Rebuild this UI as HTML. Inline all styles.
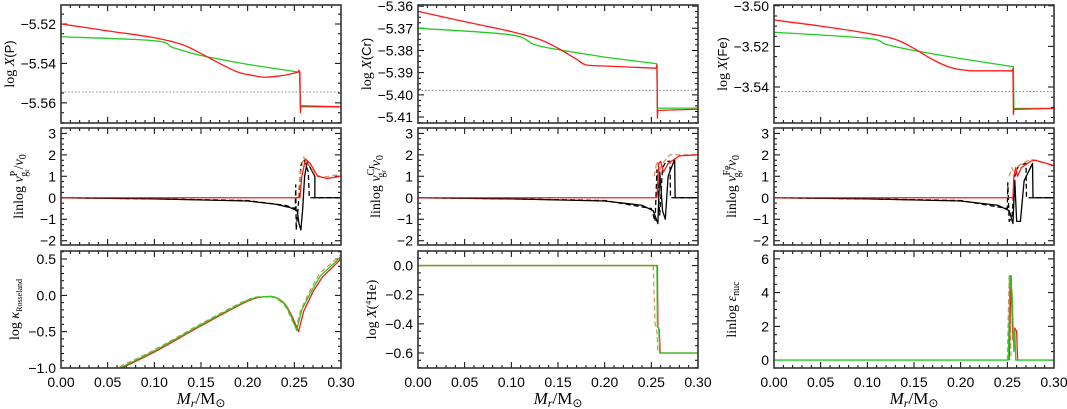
<!DOCTYPE html>
<html><head><meta charset="utf-8"><style>
html,body{margin:0;padding:0;background:#fff;}
svg{display:block;}
</style></head><body>
<svg id="fig" width="1067" height="409" xmlns="http://www.w3.org/2000/svg"></svg>
<script>
// ---- data arrays (x in M_r/M_sun, y in panel units) ----
const xTickLabels = ["0.00","0.05","0.10","0.15","0.20","0.25","0.30"];
const xTickValues = [0,0.05,0.10,0.15,0.20,0.25,0.30];
// Row 1: abundances
const pRed   = [[0,-5.520],[0.05,-5.5235],[0.10,-5.527],[0.13,-5.5305],[0.15,-5.535],[0.17,-5.540],[0.19,-5.5445],[0.21,-5.5465],[0.22,-5.547],[0.24,-5.546],[0.254,-5.5445],[0.255,-5.5435],[0.256,-5.5445],[0.2565,-5.565],[0.257,-5.5615],[0.30,-5.562]];
const pGreen = [[0,-5.5265],[0.10,-5.5285],[0.12,-5.532],[0.15,-5.536],[0.20,-5.5405],[0.2555,-5.5445],[0.2565,-5.562],[0.30,-5.562]];
const pRef   = -5.5545;
const crRed   = [[0,-5.3615],[0.002,-5.3625],[0.05,-5.367],[0.10,-5.3715],[0.13,-5.375],[0.15,-5.379],[0.17,-5.384],[0.18,-5.3865],[0.20,-5.387],[0.255,-5.388],[0.256,-5.3865],[0.2565,-5.4105],[0.257,-5.407],[0.30,-5.4065]];
const crGreen = [[0,-5.370],[0.10,-5.373],[0.13,-5.378],[0.20,-5.383],[0.256,-5.386],[0.2565,-5.406],[0.30,-5.406]];
const crRef   = -5.398;
const feRed   = [[0,-3.507],[0.05,-3.510],[0.10,-3.5135],[0.13,-3.5165],[0.15,-3.521],[0.17,-3.5265],[0.19,-3.5305],[0.21,-3.532],[0.255,-3.532],[0.256,-3.531],[0.2565,-3.5535],[0.257,-3.551],[0.30,-3.5505]];
const feGreen = [[0,-3.513],[0.10,-3.516],[0.12,-3.519],[0.15,-3.522],[0.20,-3.526],[0.2565,-3.530],[0.257,-3.5505],[0.30,-3.5505]];
const feRef   = -3.5422;
// Row 2: velocities
const vpBlack  = [[0,0],[0.10,-0.05],[0.20,-0.15],[0.23,-0.3],[0.245,-0.45],[0.253,-0.6],[0.255,-1.2],[0.257,-1.5],[0.259,-0.5],[0.261,1.0],[0.264,1.7],[0.267,1.4],[0.272,1.0],[0.272,0],[0.30,0]];
const vpDash   = [[0,0],[0.10,-0.05],[0.20,-0.13],[0.24,-0.35],[0.251,-0.5],[0.2515,0.6],[0.252,-1.5],[0.254,-0.5],[0.257,1.5],[0.260,1.8],[0.265,1.2],[0.266,0],[0.30,0]];
const vpRed    = [[0,0],[0.256,0],[0.258,1.0],[0.262,1.8],[0.267,1.6],[0.275,1.0],[0.285,0.9],[0.30,1.0]];
const vpOrange = [[0.254,0],[0.256,1.0],[0.260,1.9],[0.265,1.6],[0.272,1.1],[0.28,0.95],[0.30,1.1]];
const vcBlack  = [[0,0],[0.10,-0.05],[0.20,-0.15],[0.24,-0.35],[0.252,-0.6],[0.257,-1.2],[0.259,1.2],[0.262,-0.6],[0.265,-1.0],[0.268,1.0],[0.275,1.8],[0.2755,0],[0.30,0]];
const vcDash   = [[0,0],[0.10,-0.05],[0.20,-0.13],[0.25,-0.5],[0.254,-1.1],[0.256,1.3],[0.259,-0.8],[0.262,1.4],[0.266,1.7],[0.270,1.7],[0.2705,0],[0.30,0]];
const vcRed    = [[0,0],[0.256,0],[0.258,1.6],[0.260,1.7],[0.263,1.2],[0.268,1.6],[0.28,1.95],[0.30,2.0]];
const vcOrange = [[0.253,1.0],[0.256,1.7],[0.259,1.3],[0.262,1.6],[0.27,2.0],[0.30,2.0]];
const vfBlack  = [[0,0],[0.10,-0.05],[0.20,-0.15],[0.24,-0.35],[0.252,-0.6],[0.256,-1.2],[0.258,0.8],[0.260,-1.1],[0.264,-1.1],[0.268,0.8],[0.277,1.6],[0.2775,0],[0.30,0]];
const vfDash   = [[0,0],[0.10,-0.05],[0.20,-0.13],[0.25,-0.5],[0.2505,0.7],[0.252,-1.1],[0.255,-0.9],[0.258,1.0],[0.262,1.5],[0.270,1.6],[0.2705,0],[0.30,0]];
const vfRed    = [[0,0],[0.256,0],[0.257,1.0],[0.259,1.4],[0.261,1.0],[0.265,1.4],[0.275,1.7],[0.28,1.75],[0.30,1.5]];
const vfOrange = [[0.252,1.0],[0.255,1.4],[0.258,1.1],[0.262,1.5],[0.275,1.8],[0.30,1.5]];
// Row 3
const kRed    = [[0.06,-1.03],[0.10,-0.78],[0.15,-0.42],[0.20,-0.08],[0.22,-0.02],[0.23,-0.03],[0.24,-0.12],[0.248,-0.3],[0.2545,-0.5],[0.26,-0.22],[0.27,0.05],[0.28,0.25],[0.30,0.5]];
const kGreen  = [[0.058,-1.03],[0.10,-0.765],[0.15,-0.405],[0.20,-0.07],[0.22,-0.02],[0.23,-0.03],[0.24,-0.13],[0.247,-0.3],[0.2525,-0.48],[0.258,-0.2],[0.268,0.05],[0.278,0.27],[0.30,0.53]];
const kOrange = [[0.055,-1.03],[0.10,-0.75],[0.15,-0.39],[0.20,-0.06],[0.22,-0.02],[0.23,-0.04],[0.24,-0.15],[0.246,-0.3],[0.2515,-0.45],[0.257,-0.2],[0.267,0.07],[0.277,0.3],[0.30,0.56]];
const heGreen  = [[0,0],[0.256,0],[0.2565,-0.42],[0.258,-0.43],[0.259,-0.6],[0.30,-0.6]];
const heRed    = [[0,0],[0.2565,0],[0.257,-0.42],[0.2585,-0.44],[0.2595,-0.6],[0.30,-0.6]];
const heOrange = [[0.252,0],[0.254,-0.4],[0.256,-0.45],[0.257,-0.6]];
const eGreen  = [[0,0],[0.251,0],[0.253,5.0],[0.255,4.0],[0.257,0.5],[0.258,1.8],[0.259,0],[0.30,0]];
const eRed    = [[0.252,0],[0.254,5.0],[0.256,1.2],[0.258,1.9],[0.260,1.7],[0.261,0]];
const eOrange = [[0.250,0],[0.252,5.0],[0.254,0]];

// ---- layout ----
const NS="http://www.w3.org/2000/svg";
const svg=document.getElementById('fig');
const cols=[61,418,774], W=280;
const rows=[[5,123],[128,245],[251,368]];
const C={red:"#ff1a1a",green:"#22cc22",orange:"#cf9a5c",black:"#000"};
function mk(tag,attrs,parent){const e=document.createElementNS(NS,tag);for(const k in attrs)e.setAttribute(k,attrs[k]);(parent||svg).appendChild(e);return e;}

const panels=[
 {c:0,r:0,ymin:-5.5702,ymax:-5.5104,maj:0.02,min:0.005,dec:2,name:'p-abundance',title:'tX',elem:'P',ref:pRef,series:[[pGreen,'green'],[pRed,'red']]},
 {c:1,r:0,ymin:-5.4127,ymax:-5.3595,maj:0.01,min:0.0025,dec:2,name:'cr-abundance',title:'tX',elem:'Cr',ref:crRef,series:[[crGreen,'green'],[crRed,'red']]},
 {c:2,r:0,ymin:-3.5577,ymax:-3.4996,maj:0.02,min:0.005,dec:2,name:'fe-abundance',title:'tX',elem:'Fe',ref:feRef,series:[[feGreen,'green'],[feRed,'red']]},
 {c:0,r:1,ymin:-2.2,ymax:3.25,maj:1,min:0.25,dec:0,name:'p-velocity',title:'tV',elem:'P',series:[[vpBlack,'black'],[vpDash,'black','5,3'],[vpOrange,'orange','5,3'],[vpRed,'red']]},
 {c:1,r:1,ymin:-2.2,ymax:3.25,maj:1,min:0.25,dec:0,name:'cr-velocity',title:'tV',elem:'Cr',series:[[vcBlack,'black'],[vcDash,'black','5,3'],[vcOrange,'orange','5,3'],[vcRed,'red']]},
 {c:2,r:1,ymin:-2.2,ymax:3.25,maj:1,min:0.25,dec:0,name:'fe-velocity',title:'tV',elem:'Fe',series:[[vfBlack,'black'],[vfDash,'black','5,3'],[vfOrange,'orange','5,3'],[vfRed,'red']]},
 {c:0,r:2,ymin:-1.0,ymax:0.61,maj:0.5,min:0.1,dec:1,name:'opacity',title:'tK',series:[[kOrange,'orange','5,3'],[kRed,'red'],[kGreen,'green']]},
 {c:1,r:2,ymin:-0.703,ymax:0.10,maj:0.2,min:0.05,dec:1,name:'helium',title:'tHe',series:[[heOrange,'orange','5,3'],[heRed,'red'],[heGreen,'green']]},
 {c:2,r:2,ymin:-0.47,ymax:6.47,maj:2,min:0.5,dec:0,name:'nuclear-energy',title:'tE',series:[[eOrange,'orange','5,3'],[eRed,'red'],[eGreen,'green']]},
];
const fmt=(v,d)=>{let s=Math.abs(v)<1e-9?(0).toFixed(d):v.toFixed(d);return s.replace('-','\u2212');};

// smooth path: Catmull-Rom for points with x < limit, linear afterwards
function pathD(pts,sx,sy,limit){
  const P=pts.map(p=>[sx(p[0]),sy(p[1]),p[0]]);
  let d='M'+P[0][0].toFixed(2)+','+P[0][1].toFixed(2);
  for(let i=0;i<P.length-1;i++){
    const p1=P[i],p2=P[i+1];
    if(p2[2]<=limit){
      const p0=P[i-1]||p1,p3=(P[i+2]&&P[i+2][2]<=limit)?P[i+2]:p2;
      const c1x=p1[0]+(p2[0]-p0[0])/6,c1y=p1[1]+(p2[1]-p0[1])/6;
      const c2x=p2[0]-(p3[0]-p1[0])/6,c2y=p2[1]-(p3[1]-p1[1])/6;
      d+=`C${c1x.toFixed(2)},${c1y.toFixed(2)} ${c2x.toFixed(2)},${c2y.toFixed(2)} ${p2[0].toFixed(2)},${p2[1].toFixed(2)}`;
    } else d+='L'+p2[0].toFixed(2)+','+p2[1].toFixed(2);
  }
  return d;
}

panels.forEach(p=>{
  const x0=cols[p.c], y0=rows[p.r][0], y1=rows[p.r][1];
  const g=mk('g',{});
  
  
  const sx=v=>x0+v/0.30*W;
  const sy=v=>y1-(v-p.ymin)/(p.ymax-p.ymin)*(y1-y0);
  const clipId='clip'+p.c+p.r;
  const cp=mk('clipPath',{id:clipId},g);mk('rect',{x:x0,y:y0,width:W,height:y1-y0},cp);
  let tk='';
  for(let i=0;i<=30;i++){const x=sx(i*0.01);const L=(i%5==0)?6:3;tk+=`M${x},${y1}v${-L}M${x},${y0}v${L}`;}
  const start=Math.ceil(p.ymin/p.min-1e-6);
  for(let k=start;k*p.min<=p.ymax+1e-9;k++){const v=k*p.min;const y=sy(v);const isMaj=Math.abs(v/p.maj-Math.round(v/p.maj))<1e-6;const L=isMaj?6:3;tk+=`M${x0},${y}h${L}M${x0+W},${y}h${-L}`;
    if(isMaj){const t=mk('text',{x:x0-5,y:y+5,'text-anchor':'end','font-size':14,'font-family':'Liberation Sans, sans-serif'},g);t.textContent=fmt(v,p.dec);
      
      }}
  const tp=mk('path',{d:tk,stroke:'#000','stroke-width':1,fill:'none'},g);
  
  
  if(p.ref!==undefined){const rl=mk('line',{x1:x0,x2:x0+W,y1:sy(p.ref),y2:sy(p.ref),stroke:'#888','stroke-width':1,'stroke-dasharray':'1.5,2'},g);
    
    }
  const sg=mk('g',{'clip-path':`url(#${clipId})`},g);
  const limit=(p.r==1)?-1:0.249;
  p.series.forEach(s=>{
    const a={d:pathD(s[0],sx,sy,limit),stroke:C[s[1]],'stroke-width':1.3,fill:'none','stroke-linejoin':'round'};
    if(s[2])a['stroke-dasharray']=s[2];
    const path=mk('path',a,sg);
    
    
  });
  const fr=mk('rect',{x:x0,y:y0,width:W,height:y1-y0,fill:'none',stroke:'#333','stroke-width':1.6},g);
  
  
  if(p.r==2){
    xTickValues.forEach((v,i)=>{const t=mk('text',{x:sx(v),y:y1+19,'text-anchor':'middle','font-size':14,'font-family':'Liberation Sans, sans-serif'},g);t.textContent=xTickLabels[i];
      
      });
    const xt=mk('text',{x:x0+W/2,y:404,'text-anchor':'middle','font-size':17,'font-family':'Liberation Serif, serif'},g);
    xt.innerHTML='<tspan font-style="italic">M</tspan><tspan font-style="italic" font-size="12" dy="3">r</tspan><tspan dy="-3">/M</tspan><tspan font-size="12" dy="3">\u2299</tspan>';
    
    
  }
  const cy=(y0+y1)/2, tx=x0-(p.r==0?47:(p.r==1?38:(p.c==0?42:(p.c==1?42:38))));
  const yt=mk('text',{x:tx,y:cy,'text-anchor':'middle','font-size':14,transform:`rotate(-90 ${tx} ${cy})`,'font-family':'Liberation Serif, serif'},g);
  if(p.title=='tX') yt.innerHTML=`<tspan>log </tspan><tspan font-style="italic">X</tspan><tspan font-family="Liberation Sans, sans-serif" font-size="13">(${p.elem})</tspan>`;
  if(p.title=='tV') yt.innerHTML=`linlog <tspan font-style="italic">v</tspan><tspan font-size="10" dy="-6">${p.elem}</tspan><tspan font-size="10" dx="${-p.elem.length*6}" dy="10">g</tspan><tspan font-size="7" dy="2">r</tspan><tspan dy="-6">/</tspan><tspan font-style="italic">v</tspan><tspan font-size="10" dy="3">0</tspan>`;
  if(p.title=='tK') yt.innerHTML=`log <tspan font-style="italic">\u03BA</tspan><tspan font-size="8" dy="3">Rosseland</tspan>`;
  if(p.title=='tHe') yt.innerHTML=`log <tspan font-style="italic">X</tspan>(<tspan font-size="8" dy="-5">4</tspan><tspan dy="5">He)</tspan>`;
  if(p.title=='tE') yt.innerHTML=`linlog <tspan font-style="italic">\u03B5</tspan><tspan font-size="10" dy="3">nuc</tspan>`;
  
  
});
</script>
</body></html>
